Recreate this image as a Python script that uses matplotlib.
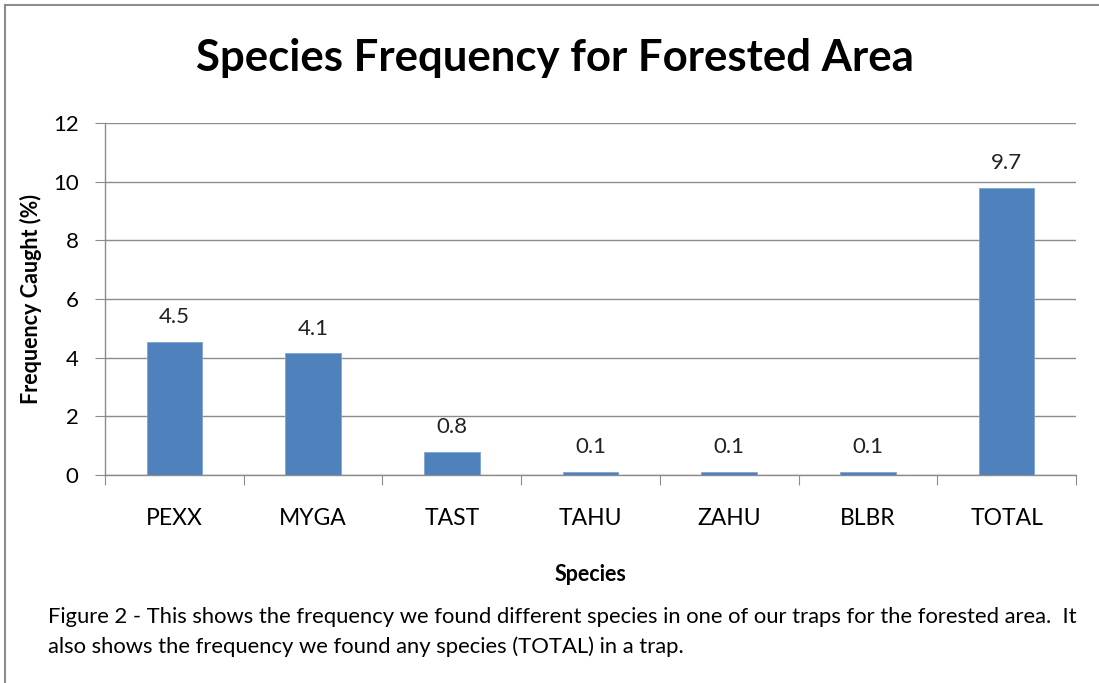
import numpy as np
import matplotlib.pyplot as plt
from matplotlib.lines import Line2D

# data
species = ["PEXX", "MYGA", "TAST", "TAHU", "ZAHU", "BLBR", "TOTAL"]
freq = [4.55, 4.15, 0.8, 0.1, 0.1, 0.1, 9.8]
freq_labels = ["4.5", "4.1", "0.8", "0.1", "0.1", "0.1", "9.7"]
yticks = [0, 2, 4, 6, 8, 10, 12]

caption = ("Figure 2 - This shows the frequency we found different species in one of our traps for the forested area.  It\n"
           "also shows the frequency we found any species (TOTAL) in a trap.")

plt.rcParams['font.family'] = ['Lato', 'DejaVu Sans']

fig = plt.figure(figsize=(10.99, 6.83), dpi=100)
ax = fig.add_axes([105 / 1099, 1 - 475 / 683, (1076 - 105) / 1099, (475 - 123) / 683])

x = np.arange(len(species))
bar_col = '#4f81bd'
ax.bar(x, freq, width=0.4, color=bar_col, edgecolor='#7fa3d3', linewidth=0.6, zorder=3)

for xi, v, lab in zip(x, freq, freq_labels):
    ax.text(xi, v + 0.5, lab, ha='center', va='bottom', fontsize=16, color='#222222')

ax.set_xlim(-0.5, len(species) - 0.5)
ax.set_ylim(0, 12)
ax.set_yticks(yticks)
ax.set_yticklabels([str(t) for t in yticks], fontsize=16)
ax.yaxis.grid(True, color='#8c8c8c', linewidth=1.0, zorder=0)
ax.tick_params(axis='y', length=7, color='#8c8c8c', pad=12)

# category ticks sit between bars, labels centred on bars
ax.set_xticks(np.arange(-0.5, len(species) + 0.5, 1.0))
ax.set_xticklabels([])
ax.set_xticks(x, minor=True)
ax.set_xticklabels(species, minor=True, fontsize=16.5)
ax.tick_params(axis='x', which='major', length=7, color='#8c8c8c', direction='out')
ax.tick_params(axis='x', which='minor', length=0, pad=24)

for s in ['top', 'right']:
    ax.spines[s].set_visible(False)
for s in ['left', 'bottom']:
    ax.spines[s].set_color('#8c8c8c')
    ax.spines[s].set_linewidth(1.0)

ax.set_ylabel("Frequency Caught (%)", fontsize=15.5, fontweight='bold', labelpad=8)
ax.set_xlabel("Species", fontsize=15.5, fontweight='bold', labelpad=25)

fig.text(555 / 1099, 1 - 58 / 683, "Species Frequency for Forested Area",
         ha='center', va='center', fontsize=31.5, fontweight='bold')

fig.text(48 / 1099, 1 - 632 / 683, caption, ha='left', va='center',
         fontsize=15.8, linespacing=1.55)

# outer frame (left and top edges visible)
fig.add_artist(Line2D([5 / 1099, 5 / 1099], [0, 1 - 5 / 683], color='#8c8c8c', linewidth=1.5))
fig.add_artist(Line2D([5 / 1099, 1], [1 - 5 / 683, 1 - 5 / 683], color='#8c8c8c', linewidth=1.5))

fig.savefig("out.png", dpi=100)
